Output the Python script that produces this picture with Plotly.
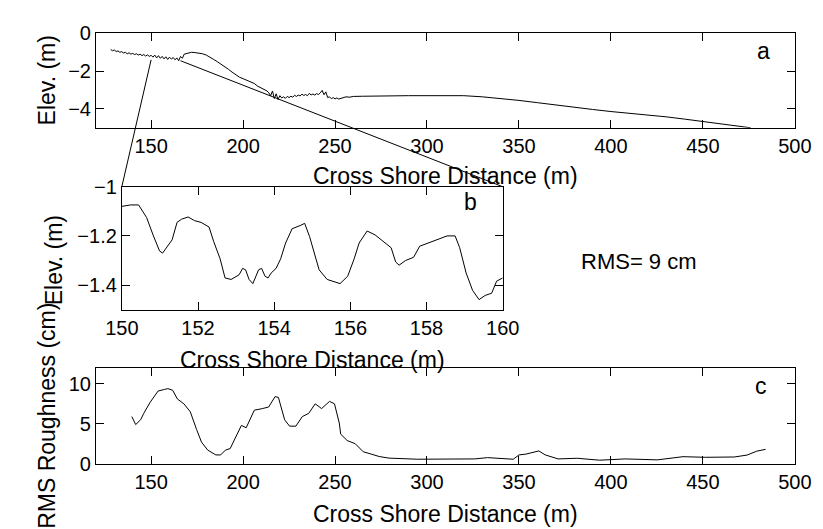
import plotly.graph_objects as go

# ---------------- data ----------------
# Panel a: beach profile (cross-shore distance, elevation)
prof_x = [128, 129, 130, 131, 132, 133, 134, 135, 136, 137, 138, 139, 140, 141, 142, 143, 144,
          145, 146, 147, 148, 149, 150, 151, 152, 153, 154, 155, 156, 157, 158, 159, 160, 161,
          162, 163, 164, 165, 166, 167, 168, 169, 170, 172, 174, 176, 178, 180, 182, 184, 186,
          188, 190, 192, 194, 196, 198, 200, 202, 204, 206, 208, 210, 212, 213, 214, 215, 216,
          217, 218, 219, 220, 221, 222, 223, 224, 225, 226, 227, 228, 229, 230, 231, 232, 233,
          234, 235, 236, 237, 238, 239, 240, 241, 242, 243, 244, 245, 246, 247, 248, 249, 250,
          251, 252, 254, 256, 258, 260, 265, 270, 280, 290, 300, 310, 320, 330, 340, 350, 360,
          370, 380, 390, 400, 410, 420, 430, 440, 450, 460, 470, 476]
prof_y = [-0.85, -0.92, -0.88, -0.96, -0.93, -1.00, -0.97, -1.04, -1.00, -1.08, -1.03, -1.10,
          -1.06, -1.12, -1.08, -1.15, -1.10, -1.18, -1.12, -1.20, -1.14, -1.22, -1.16, -1.26,
          -1.15, -1.30, -1.18, -1.32, -1.22, -1.35, -1.24, -1.38, -1.26, -1.36, -1.28, -1.40,
          -1.30, -1.45, -1.22, -1.32, -1.10, -1.08, -1.04, -1.00, -1.02, -1.05, -1.08, -1.15,
          -1.25, -1.38, -1.50, -1.62, -1.78, -1.90, -2.05, -2.20, -2.32, -2.40, -2.48, -2.55,
          -2.65, -2.80, -2.90, -3.00, -3.05, -3.15, -3.30, -3.05, -3.45, -3.20, -3.50, -3.30,
          -3.42, -3.36, -3.44, -3.34, -3.40, -3.33, -3.38, -3.28, -3.34, -3.27, -3.31, -3.22,
          -3.29, -3.24, -3.30, -3.18, -3.26, -3.21, -3.27, -3.19, -3.24, -3.15, -3.02, -3.25,
          -3.10, -3.40, -3.36, -3.46, -3.40, -3.47, -3.42, -3.48, -3.40, -3.36, -3.38, -3.34,
          -3.33, -3.32, -3.31, -3.30, -3.30, -3.29, -3.30, -3.36, -3.44, -3.55, -3.67, -3.80,
          -3.92, -4.03, -4.14, -4.22, -4.30, -4.42, -4.54, -4.66, -4.77, -4.90, -5.0]

# Panel b: detail 150-160 m
det_x = [150.0, 150.23, 150.44, 150.65, 150.82, 150.99, 151.07, 151.2, 151.32, 151.45, 151.57,
         151.74, 151.91, 152.08, 152.29, 152.41, 152.58, 152.71, 152.87, 153.08, 153.17, 153.25,
         153.34, 153.44, 153.5, 153.59, 153.67, 153.76, 153.84, 153.92, 154.05, 154.17, 154.3,
         154.47, 154.68, 154.8, 154.93, 155.05, 155.18, 155.39, 155.73, 155.93, 156.1, 156.23,
         156.44, 156.65, 156.86, 157.07, 157.19, 157.28, 157.45, 157.66, 157.82, 158.03, 158.28,
         158.54, 158.75, 158.87, 159.04, 159.21, 159.38, 159.54, 159.71, 159.84, 160.0]
det_y = [-1.08, -1.074, -1.074, -1.125, -1.196, -1.261, -1.27, -1.242, -1.216, -1.145, -1.132,
         -1.123, -1.138, -1.145, -1.164, -1.222, -1.293, -1.371, -1.377, -1.358, -1.332, -1.338,
         -1.377, -1.394, -1.371, -1.338, -1.332, -1.364, -1.371, -1.351, -1.332, -1.293, -1.229,
         -1.171, -1.158, -1.149, -1.203, -1.267, -1.338, -1.377, -1.394, -1.364, -1.293, -1.229,
         -1.180, -1.196, -1.222, -1.248, -1.306, -1.319, -1.300, -1.287, -1.242, -1.229, -1.216,
         -1.200, -1.200, -1.248, -1.351, -1.422, -1.459, -1.442, -1.433, -1.384, -1.371]

# Panel c: RMS roughness
rms_x = [139.5, 141.6, 144.3, 146.0, 149.5, 153.8, 157.3, 159.1, 161.7, 164.3, 167.8, 171.3,
         174.7, 177.4, 180.8, 185.2, 187.8, 190.4, 193.0, 196.5, 199.1, 201.7, 206.1, 210.5,
         213.9, 217.4, 219.2, 222.6, 225.3, 228.7, 232.2, 235.7, 239.2, 242.7, 247.0, 249.7,
         252.3, 253.1, 256.6, 261.0, 265.3, 269.7, 274.0, 279.3, 294.9, 326.0, 332.9, 346.9,
         350.0, 353.8, 360.8, 364.3, 371.3, 381.7, 393.9, 407.8, 425.3, 439.2, 451.4, 467.1,
         474.0, 479.3, 484.1]
rms_y = [5.9, 4.9, 5.5, 6.3, 7.7, 9.1, 9.3, 9.4, 9.2, 8.1, 7.5, 6.5, 4.3, 2.7, 1.7, 1.1, 1.1,
         1.7, 1.9, 3.5, 4.8, 4.5, 6.7, 6.9, 7.1, 8.4, 8.3, 5.5, 4.7, 4.7, 5.9, 6.3, 7.5, 6.9,
         7.8, 7.5, 5.1, 3.7, 2.9, 2.5, 1.5, 1.2, 0.9, 0.7, 0.56, 0.6, 0.76, 0.56, 1.1, 1.2, 1.6,
         1.1, 0.6, 0.68, 0.44, 0.6, 0.48, 0.88, 0.8, 0.84, 1.08, 1.57, 1.8]

dist_ticks = [150, 200, 250, 300, 350, 400, 450, 500]
detail_ticks = [150, 152, 154, 156, 158, 160]
elev_ticks = [-4, -2, 0]
detail_elev_ticks = [-1.4, -1.2, -1.0]
rms_ticks = [0, 5, 10]

# zoom window (points on panel a joined to the corners of panel b)
zoom_start_x = [150, 166]
zoom_start_y = [-1.40, -1.45]

# ---------------- layout geometry ----------------
W, H = 823, 529
def dx(px):
    return px / W
def dy(py):
    return 1 - py / H

dom_a_x = [dx(74), dx(803)]
dom_a_y = [dy(113.5), dy(15)]
dom_b_x = [dx(101), dx(498.3)]
dom_b_y = [dy(303.3), dy(175)]
dom_c_x = [dx(74), dx(803)]
dom_c_y = [dy(464), dy(364)]

rng_a_x = [120, 500]
rng_a_y = [-5, 0]
rng_b_x = [150, 160]
rng_b_y = [-1.5, -1.0]
rng_c_x = [120, 500]
rng_c_y = [0, 12]

FONT = "Liberation Sans, Arial, Helvetica, sans-serif"

fig = go.Figure()
line_style = dict(color="black", width=1)
fig.add_trace(go.Scatter(x=prof_x, y=prof_y, mode="lines", line=line_style, xaxis="x", yaxis="y", showlegend=False))
fig.add_trace(go.Scatter(x=det_x, y=det_y, mode="lines", line=line_style, xaxis="x2", yaxis="y2", showlegend=False))
fig.add_trace(go.Scatter(x=rms_x, y=rms_y, mode="lines", line=line_style, xaxis="x3", yaxis="y3", showlegend=False))

def axis(domain, rng, ticks, anchor):
    return dict(domain=domain, range=rng, tickvals=ticks, anchor=anchor,
                showgrid=False, zeroline=False, showline=True, mirror="allticks",
                linecolor="black", linewidth=1, ticks="inside", ticklen=8,
                tickcolor="black", tickwidth=1,
                tickfont=dict(family=FONT, size=20, color="black"))

fig.update_layout(
    width=W, height=H,
    margin=dict(l=0, r=0, t=0, b=0),
    paper_bgcolor="white", plot_bgcolor="white",
    font=dict(family=FONT, size=20, color="black"),
    xaxis=axis(dom_a_x, rng_a_x, dist_ticks, "y"),
    yaxis=axis(dom_a_y, rng_a_y, elev_ticks, "x"),
    xaxis2=axis(dom_b_x, rng_b_x, detail_ticks, "y2"),
    yaxis2=axis(dom_b_y, rng_b_y, detail_elev_ticks, "x2"),
    xaxis3=axis(dom_c_x, rng_c_x, dist_ticks, "y3"),
    yaxis3=axis(dom_c_y, rng_c_y, rms_ticks, "x3"),
)

# connecting lines from panel a to panel b corners (data -> paper)
def to_paper(v, rng, dom):
    return dom[0] + (v - rng[0]) / (rng[1] - rng[0]) * (dom[1] - dom[0])

corners_x = [rng_b_x[0], rng_b_x[1]]
for sx, sy, cx in zip(zoom_start_x, zoom_start_y, corners_x):
    fig.add_shape(type="line", xref="paper", yref="paper",
                  x0=to_paper(sx, rng_a_x, dom_a_x), y0=to_paper(sy, rng_a_y, dom_a_y),
                  x1=to_paper(cx, rng_b_x, dom_b_x), y1=to_paper(rng_b_y[1], rng_b_y, dom_b_y),
                  line=dict(color="black", width=1))

def ann(text, x, y, size=23, angle=0):
    fig.add_annotation(text=text, x=dx(x), y=dy(y), xref="paper", yref="paper",
                       showarrow=False, xanchor="center", yanchor="middle",
                       textangle=angle, borderpad=0,
                       font=dict(family=FONT, size=size, color="black"))

ann("Cross Shore Distance (m)", 438.5, 164)
ann("Cross Shore Distance (m)", 299.5, 356)
ann("Cross Shore Distance (m)", 438.5, 517)
ann("Elev. (m)", 23, 64, angle=-90)
ann("Elev. (m)", 30, 252, angle=-90)
ann("RMS Roughness (cm)", 23, 414, angle=-90)
ann("a", 770, 33)
ann("b", 465, 191)
ann("c", 768, 383)
ann("RMS= 9 cm", 640, 253, size=22)

fig.write_html("out.html")
